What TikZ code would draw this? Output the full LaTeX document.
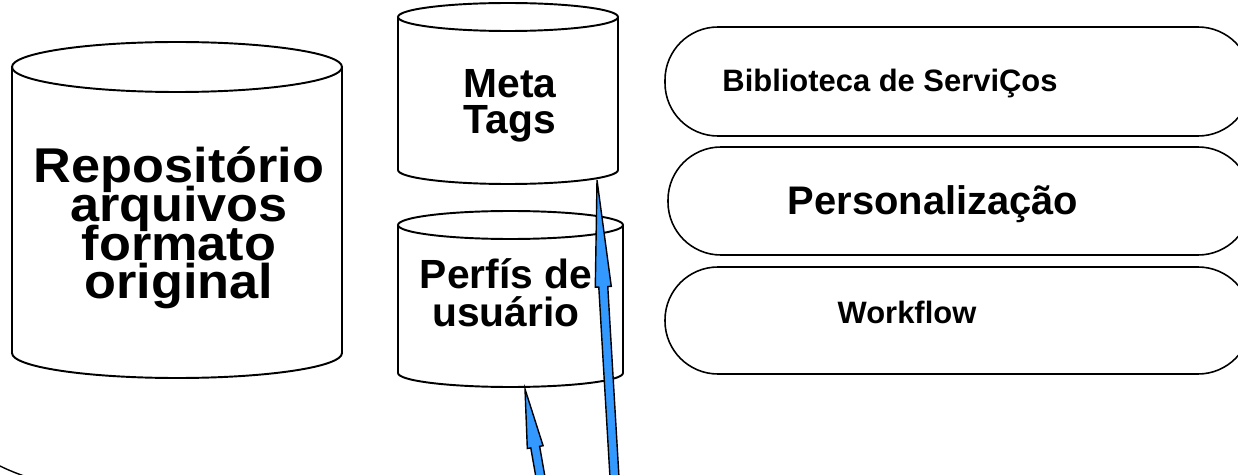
\documentclass[tikz,border=0pt]{standalone}
\usepackage{fontspec}
\setmainfont{Liberation Sans}
\usepackage{tikz}
\usetikzlibrary{calc,positioning}
\definecolor{arrowblue}{RGB}{51,153,255}
\tikzset{
    dbline/.style={draw=black, line width=1.1pt},
    dbtext/.style={align=center, inner sep=0pt,
        execute at begin node={\lineskiplimit=-50pt}},
    pill/.style={draw=black, line width=0.9pt, rounded corners=1.06cm},
    pilltext/.style={inner sep=0pt},
    blockarrow/.style={draw=black, fill=arrowblue, line width=0.8pt},
}
% cylinder: left x, right x, top centre y, bottom centre y, y radius
\newcommand\dbcylinder[5]{%
  \draw[dbline] (#1,#3) -- (#1,#4) arc (180:360:{(#2-#1)/2} and #5) -- (#2,#3);
  \draw[dbline] ({(#1+#2)/2},#3) ellipse ({(#2-#1)/2} and #5);
}
% block arrow: tail, tip, head length
\newcommand\upblock[3]{%
  \coordinate (hb) at ($(#2)!#3!(#1)$);
  \draw[blockarrow] (#2) -- ($(hb)!0.16cm!90:(#2)$) -- ($(hb)!0.09cm!90:(#2)$)
    -- ($(#1)!0.09cm!90:(#2)$) -- ($(#1)!0.09cm!-90:(#2)$)
    -- ($(hb)!0.09cm!-90:(#2)$) -- ($(hb)!0.16cm!-90:(#2)$) -- cycle;
}

\begin{document}
\begin{tikzpicture}[x=0.02cm, y=0.02cm]
\useasboundingbox (0,0) rectangle (1238,474);
\clip (0,0) rectangle (1238,474);

% data stores
\dbcylinder{12}{342}{407}{121}{25}
\dbcylinder{398}{618}{457}{304}{14}
\dbcylinder{398}{623}{249}{101}{14}

\node[dbtext, font=\bfseries\addfontfeatures{FakeStretch=1.07}\fontsize{27.8}{22}\selectfont] (repo) at (179,246)
  {Repositório\\arquivos\\formato\\original};
\node[dbtext, font=\bfseries\fontsize{23.2}{20.4}\selectfont] (meta) at (510,368) {Meta\\Tags};
\node[dbtext, font=\bfseries\fontsize{23.2}{21.5}\selectfont] (perfis) at (506,181) {Perfís de\\usuário};

% service layers
\foreach \x/\yb/\yt [count=\i] in {665/338/447, 668/219/327, 665/100/207}
  \draw[pill] (\x,\yb) rectangle (1251,\yt);

\node[pilltext, font=\bfseries\fontsize{17.6}{20}\selectfont] (biblio) at (890,390) {Biblioteca de ServiÇos};
\node[pilltext, font=\bfseries\fontsize{22.7}{26}\selectfont] (person) at (933,270) {Personalização};
\node[pilltext, font=\bfseries\fontsize{17.6}{20}\selectfont] (workflow) at (907,162) {Workflow};

% edge of the shape below
\draw[line width=0.8pt] (0,8) .. controls (6,5) and (13,2) .. (24,-2);

% arrows
\coordinate (perfis-bot) at (525,85);
\coordinate (meta-bot) at (597,294);
\coordinate (tail-a) at (548,-46);
\coordinate (tail-b) at (617,-46);
\upblock{tail-a}{perfis-bot}{1.18cm}
\upblock{tail-b}{meta-bot}{2.14cm}

\end{tikzpicture}
\end{document}
